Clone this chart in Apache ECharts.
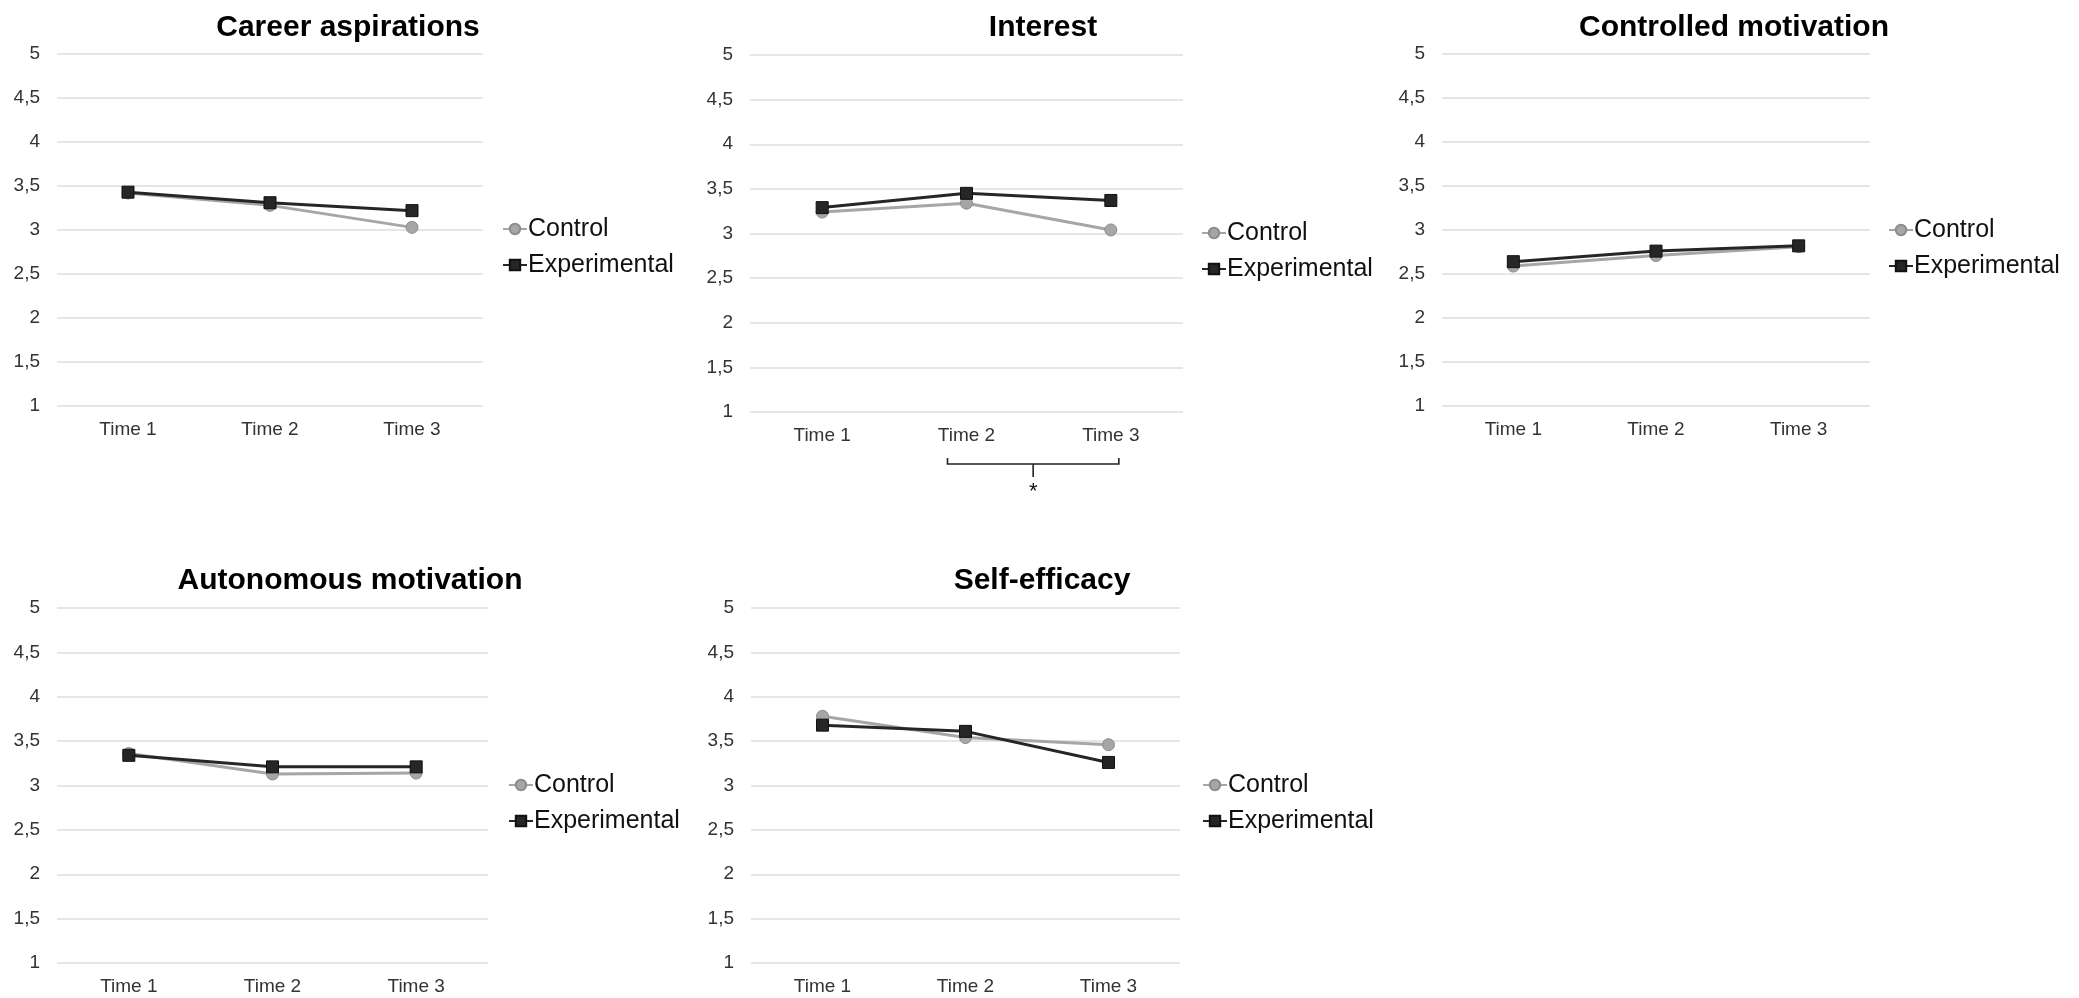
<!DOCTYPE html>
<html>
<head>
<meta charset="utf-8">
<script src="https://cdn.jsdelivr.net/npm/echarts@6/dist/echarts.min.js"></script>
<style>
html,body{margin:0;padding:0;background:#fff;}
#c{width:2079px;height:998px;}
</style>
</head>
<body>
<div id="c"></div>
<script>
// ---- data ----
const categories = ['Time 1', 'Time 2', 'Time 3'];
const seriesNames = ['Control', 'Experimental'];
const panelTitles = ['Career aspirations', 'Interest', 'Controlled motivation', 'Autonomous motivation', 'Self-efficacy'];
const yMin = 1, yMax = 5, yStep = 0.5;

const careerControl = [3.42, 3.28, 3.03];
const careerExperimental = [3.43, 3.31, 3.22];
const interestControl = [3.24, 3.34, 3.04];
const interestExperimental = [3.29, 3.45, 3.37];
const controlledControl = [2.59, 2.71, 2.81];
const controlledExperimental = [2.64, 2.76, 2.82];
const autonomousControl = [3.36, 3.13, 3.14];
const autonomousExperimental = [3.34, 3.21, 3.21];
const selfEfficacyControl = [3.78, 3.54, 3.46];
const selfEfficacyExperimental = [3.68, 3.61, 3.26];

const significanceMark = '*';

const panelData = [
  [careerControl, careerExperimental],
  [interestControl, interestExperimental],
  [controlledControl, controlledExperimental],
  [autonomousControl, autonomousExperimental],
  [selfEfficacyControl, selfEfficacyExperimental]
];

// ---- layout ----
const FONT = "'Liberation Sans', Arial, Helvetica, sans-serif";
const layout = [
  {left: 57,   top: 54,  width: 426, height: 352, titleX: 343,  titleY: 8,   legX: 497,  legY: 210},
  {left: 750,  top: 55,  width: 433, height: 357, titleX: 1038, titleY: 8,   legX: 1196, legY: 214},
  {left: 1442, top: 54,  width: 428, height: 352, titleX: 1729, titleY: 8,   legX: 1883, legY: 211},
  {left: 57,   top: 608, width: 431, height: 355, titleX: 345,  titleY: 561, legX: 503,  legY: 766},
  {left: 751,  top: 608, width: 429, height: 355, titleX: 1037, titleY: 561, legX: 1197, legY: 766}
];

const chart = echarts.init(document.getElementById('c'), null, {renderer: 'canvas'});

const grids = [], xAxes = [], yAxes = [], series = [], titles = [], legends = [];
layout.forEach((L, i) => {
  grids.push({left: L.left, top: L.top, width: L.width, height: L.height, containLabel: false});
  xAxes.push({
    type: 'category', gridIndex: i, data: categories, boundaryGap: true,
    axisLine: {show: false}, axisTick: {show: false},
    axisLabel: {fontSize: 19, color: '#333', fontFamily: FONT, margin: 14}
  });
  yAxes.push({
    type: 'value', gridIndex: i, min: yMin, max: yMax, interval: yStep,
    axisLine: {show: false}, axisTick: {show: false},
    axisLabel: {fontSize: 19, color: '#333', fontFamily: FONT, margin: 17,
      formatter: v => String(v).replace('.', ',')},
    splitLine: {lineStyle: {color: '#dedede', width: 1.5}}
  });
  titles.push({
    text: panelTitles[i], left: L.titleX, top: L.titleY, textAlign: 'center',
    textStyle: {fontSize: 30, fontWeight: 'bold', color: '#000', fontFamily: FONT}
  });
  legends.push({
    data: seriesNames, orient: 'vertical', left: L.legX, top: L.legY,
    itemWidth: 24, itemHeight: 13, itemGap: 8, selectedMode: false,
    textStyle: {fontSize: 25, color: '#111', fontFamily: FONT, lineHeight: 28, padding: [0, 0, 0, -4]}
  });
  series.push({
    name: seriesNames[0], type: 'line', xAxisIndex: i, yAxisIndex: i,
    data: panelData[i][0], symbol: 'circle', symbolSize: 12,
    lineStyle: {color: '#a6a6a6', width: 3},
    itemStyle: {color: '#a6a6a6', borderColor: '#8c8c8c', borderWidth: 1},
    z: 2, animation: false
  });
  series.push({
    name: seriesNames[1], type: 'line', xAxisIndex: i, yAxisIndex: i,
    data: panelData[i][1], symbol: 'rect', symbolSize: 12,
    lineStyle: {color: '#262626', width: 3},
    itemStyle: {color: '#262626', borderColor: '#111', borderWidth: 1},
    z: 3, animation: false
  });
});

chart.setOption({
  backgroundColor: '#fff',
  animation: false,
  title: titles,
  legend: legends,
  grid: grids,
  xAxis: xAxes,
  yAxis: yAxes,
  series: series
});

// significance bracket in the Interest panel, anchored on its axis positions
const pA = chart.convertToPixel({xAxisIndex: 1, yAxisIndex: 1}, [categories[1], yMin]);
const pB = chart.convertToPixel({xAxisIndex: 1, yAxisIndex: 1}, [categories[2], yMin]);
const bl = pA[0] - 19, br = pB[0] + 8, bt = pA[1] + 46, bb = pA[1] + 52, mid = (bl + br) / 2;
chart.setOption({
  graphic: [
    {type: 'polyline', shape: {points: [[bl, bt], [bl, bb], [br, bb], [br, bt]]},
     style: {stroke: '#222', lineWidth: 1.6, fill: null}},
    {type: 'line', shape: {x1: mid, y1: bb, x2: mid, y2: bb + 13},
     style: {stroke: '#222', lineWidth: 1.6}},
    {type: 'text', x: mid, y: bb + 28,
     style: {text: significanceMark, fontSize: 22, fontFamily: FONT, fill: '#111', align: 'center', verticalAlign: 'middle'}}
  ]
});
</script>
</body>
</html>
